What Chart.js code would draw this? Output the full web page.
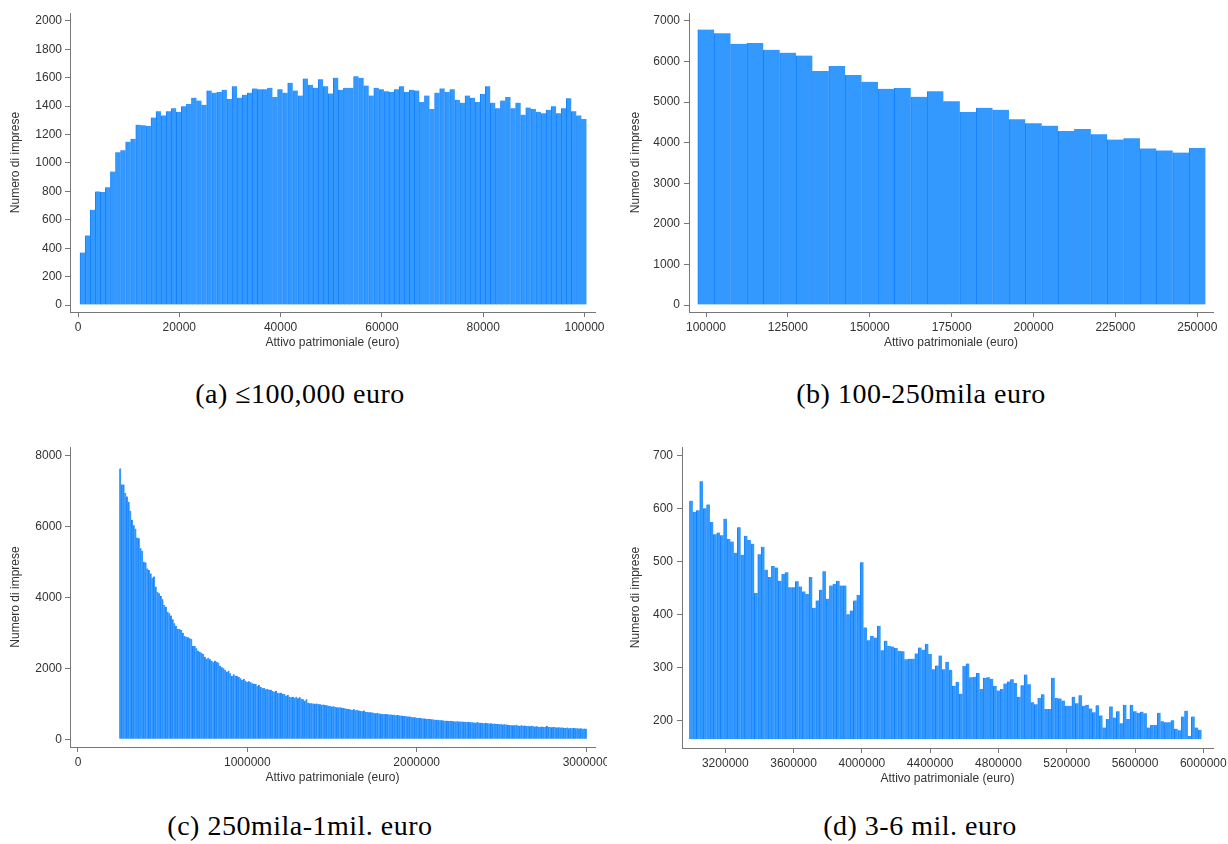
<!DOCTYPE html>
<html>
<head>
<meta charset="utf-8">
<script src="https://cdn.jsdelivr.net/npm/chart.js@4.4.0/dist/chart.umd.min.js"></script>
<style>
    body { margin: 0; background: #fff; width: 1228px; height: 844px; position: relative; overflow: hidden; }
    canvas { position: absolute; }
    .caption {
        position: absolute; width: 614px; text-align: center; white-space: nowrap;
        font-family: "Liberation Serif", "Times New Roman", serif;
        font-size: 28px; line-height: 28px; letter-spacing: 0.5px; color: #000;
    }
</style>
</head>
<body>

<canvas id="chart_a" width="614" height="370" style="left:0px;top:0px"></canvas>
<canvas id="chart_b" width="614" height="370" style="left:614px;top:0px"></canvas>
<canvas id="chart_c" width="607" height="370" style="left:0px;top:430px"></canvas>
<canvas id="chart_d" width="614" height="370" style="left:614px;top:430px"></canvas>

<div class="caption" style="left:-7px;top:380px">(a) &le;100,000 euro</div>
<div class="caption" style="left:614px;top:380px">(b) 100-250mila euro</div>
<div class="caption" style="left:-7px;top:812px">(c) 250mila-1mil. euro</div>
<div class="caption" style="left:613px;top:812px">(d) 3-6 mil. euro</div>

<script>
/******************************************************************************
* Histogram data. Bins are regular: start + width * i.
******************************************************************************/
var binStartA = 400;
var binWidthA = 1000;
var countsA = [
    370, 490, 670, 800, 795, 830, 940, 1075, 1090, 1150,
    1170, 1270, 1265, 1260, 1320, 1365, 1335, 1365, 1385, 1360,
    1400, 1415, 1460, 1440, 1410, 1510, 1495, 1500, 1515, 1450,
    1540, 1460, 1480, 1495, 1525, 1520, 1520, 1530, 1465, 1520,
    1495, 1565, 1510, 1475, 1595, 1550, 1530, 1590, 1540, 1490,
    1600, 1515, 1530, 1530, 1610, 1600, 1545, 1475, 1530, 1520,
    1505, 1500, 1520, 1540, 1500, 1515, 1510, 1430, 1475, 1380,
    1495, 1525, 1500, 1520, 1445, 1425, 1475, 1460, 1430, 1485,
    1540, 1425, 1385, 1440, 1465, 1385, 1425, 1340, 1390, 1380,
    1360, 1350, 1375, 1400, 1350, 1385, 1455, 1365, 1335, 1310
];
var xTicksA = [0, 20000, 40000, 60000, 80000, 100000];
var yTicksA = [0, 200, 400, 600, 800, 1000, 1200, 1400, 1600, 1800, 2000];

var binStartB = 97500;
var binWidthB = 5000;
var countsB = [
    6790, 6700, 6440, 6460, 6290, 6220, 6150, 5770, 5890, 5670,
    5500, 5330, 5350, 5130, 5270, 5020, 4760, 4860, 4810, 4580,
    4480, 4420, 4290, 4340, 4210, 4080, 4110, 3860, 3810, 3760,
    3870
];
var xTicksB = [100000, 125000, 150000, 175000, 200000, 225000, 250000];
var yTicksB = [0, 1000, 2000, 3000, 4000, 5000, 6000, 7000];

var binStartC = 245000;
var binWidthC = 10000;
var countsC = [
    7640, 7190, 7190, 6950, 6850, 6700, 6450, 6190, 6040, 5940,
    5690, 5670, 5390, 5320, 5010, 4990, 4820, 4775, 4680, 4560,
    4590, 4305, 4155, 4117, 4040, 3950, 3790, 3740, 3600, 3553,
    3490, 3384, 3271, 3196, 3110, 3110, 3083, 3008, 2914, 2895,
    2876, 2848, 2829, 2632, 2632, 2566, 2500, 2472, 2444, 2406,
    2331, 2275, 2303, 2256, 2218, 2171, 2218, 2190, 2162, 2077,
    2030, 2002, 1955, 1908, 1936, 1861, 1786, 1833, 1795, 1786,
    1758, 1720, 1673, 1701, 1654, 1617, 1636, 1607, 1579, 1570,
    1560, 1504, 1532, 1476, 1438, 1448, 1410, 1420, 1400, 1400,
    1363, 1344, 1372, 1316, 1297, 1316, 1288, 1278, 1231, 1250,
    1203, 1184, 1203, 1175, 1203, 1156, 1184, 1147, 1128, 1090,
    1128, 1034, 1015,
    1020, 1010,
    1005, 1010, 995,
    990, 975, 980, 965, 960, 950,
    940, 925, 930, 910, 905, 900,
    905, 890, 880, 870, 860, 855,
    840, 830, 850, 820, 835, 810,
    800, 790, 810, 780, 770, 765,
    760, 755, 740, 735, 745, 725,
    720, 715, 710, 712, 705, 700,
    700, 695, 690, 680, 685, 670,
    675, 660, 655, 650, 640, 645,
    630, 625, 620, 610, 600, 605,
    595, 590, 585, 575, 580, 570,
    565, 560, 550, 555, 545, 540,
    535, 530, 520, 525, 515, 520,
    515, 510, 505, 510, 500, 505,
    500, 495, 490, 495, 485, 480,
    480, 475, 470, 485, 465, 470,
    460, 455, 465, 450, 445, 450,
    440, 445, 435, 430, 425, 430,
    420, 425, 415, 410, 405, 400,
    400, 395, 410, 390, 385, 395,
    380, 390, 375, 385, 370, 380,
    365, 360, 370, 355, 350, 360,
    345, 355, 380, 350, 345, 340,
    345, 340, 335, 340, 330, 335,
    325, 320, 330, 315, 320, 310,
    320, 315, 310, 305, 315, 300,
    305, 300
];
var xTicksC = [0, 1000000, 2000000, 3000000];
var yTicksC = [0, 2000, 4000, 6000, 8000];

var binStartD = 2990000;
var binWidthD = 20000;
var countsD = [
    615, 594, 597, 652, 601, 608, 575, 552, 555, 550,
    581, 543, 538, 517, 565, 513, 549, 541, 534, 441,
    514, 528, 485, 471, 492, 489, 464, 477, 480, 452,
    452, 463, 453, 444, 439, 471, 413, 427, 447, 482,
    430, 455, 458, 464, 455, 455, 401, 408, 427, 437,
    499, 376, 352, 360, 357, 379, 333, 351, 341, 340,
    337, 332, 331, 316, 317, 317, 327, 338, 334, 345,
    326, 297, 304, 323, 297, 311, 296, 266, 273, 251,
    303, 308, 282, 283, 290, 260, 281, 282, 279, 266,
    257, 260, 270, 274, 278, 271, 245, 267, 287, 269,
    235, 231, 243, 250, 222, 222, 281, 243, 242, 238,
    228, 228, 245, 233, 248, 228, 230, 223, 216, 229,
    210, 187, 203, 227, 206, 218, 195, 230, 203, 230,
    218, 215, 217, 214, 187, 192, 192, 215, 199, 197,
    197, 201, 185, 182, 208, 219, 171, 208, 187, 183
];
var xTicksD = [3200000, 3600000, 4000000, 4400000, 4800000, 5200000, 5600000, 6000000];
var yTicksD = [200, 300, 400, 500, 600, 700];

var X_TITLE = 'Attivo patrimoniale (euro)';
var Y_TITLE = 'Numero di imprese';

var BAR_FILL = 'rgb(51,153,255)';
var BAR_EDGE = 'rgb(20,128,255)';
var AXIS_COLOR = '#777777';
var TEXT_COLOR = '#333333';

Chart.defaults.font.family = '"Liberation Sans", Arial, Helvetica, sans-serif';
Chart.defaults.font.size = 12;

/******************************************************************************
* Builds one histogram. box holds the axis ranges and the layout numbers that
* put the plot area where the figure has it.
******************************************************************************/
function draw_histogram(id, binStart, binWidth, counts, xTicks, yTicks, box) {

    var points = counts.map(function (c, i) {
        return { x: binStart + binWidth * (i + 0.5), y: c };
    });

    var dataset = {
        data: points,
        backgroundColor: BAR_FILL,
        borderColor: BAR_EDGE,
        borderWidth: { left: 1, right: 0, top: 0, bottom: 0 },
        borderSkipped: false,
        barPercentage: 1,
        categoryPercentage: 1
    };
    if (box.base !== undefined) {
        dataset.base = box.base;
    }

    // the last tick label may hang over the edge, do not let it shrink the plot
    var noLabelPadding = function (s) {
        s.paddingLeft = 0;
        s.paddingRight = 0;
        s.paddingTop = 0;
        s.paddingBottom = 0;
    };

    var tickFont = { size: 12 };

    new Chart(document.getElementById(id).getContext('2d'), {
        type: 'bar',
        data: { datasets: [dataset] },
        options: {
            responsive: false,
            animation: false,
            events: [],
            layout: {
                autoPadding: false,
                padding: { left: 0, top: box.top, right: box.right, bottom: box.bottom }
            },
            plugins: {
                legend: { display: false },
                tooltip: { enabled: false }
            },
            scales: {
                x: {
                    type: 'linear',
                    min: box.xMin,
                    max: box.xMax,
                    bounds: 'data',
                    offset: false,
                    afterBuildTicks: function (s) {
                        s.ticks = xTicks.map(function (v) { return { value: v }; });
                    },
                    afterFit: function (s) {
                        s.height = 40;
                        noLabelPadding(s);
                    },
                    grid: { offset: false, drawOnChartArea: false, drawTicks: true, tickLength: 5, color: AXIS_COLOR },
                    border: { display: true, color: AXIS_COLOR, width: 1 },
                    ticks: {
                        font: tickFont, color: TEXT_COLOR, padding: 3,
                        maxRotation: 0, minRotation: 0, autoSkip: false,
                        callback: function (v) { return String(v); }
                    },
                    title: {
                        display: true, text: X_TITLE, color: TEXT_COLOR, font: { size: 12 },
                        padding: { top: 0, bottom: 2 }
                    }
                },
                y: {
                    type: 'linear',
                    min: box.yMin,
                    max: box.yMax,
                    bounds: 'data',
                    afterBuildTicks: function (s) {
                        s.ticks = yTicks.map(function (v) { return { value: v }; });
                    },
                    afterFit: function (s) {
                        s.width = box.left;
                        noLabelPadding(s);
                    },
                    grid: { drawOnChartArea: false, drawTicks: true, tickLength: 5, color: AXIS_COLOR },
                    border: { display: true, color: AXIS_COLOR, width: 1 },
                    ticks: {
                        font: tickFont, color: TEXT_COLOR, padding: box.tickPad,
                        autoSkip: false,
                        callback: function (v) { return String(v); }
                    },
                    title: {
                        display: true, text: Y_TITLE, color: TEXT_COLOR, font: { size: 12 },
                        padding: { top: box.yTitlePad, bottom: 0 }
                    }
                }
            }
        }
    });
}

draw_histogram('chart_a', binStartA, binWidthA, countsA, xTicksA, yTicksA, {
    xMin: -1580, xMax: 102070, yMin: -49, yMax: 2056,
    left: 70, top: 13, right: 19, bottom: 18, tickPad: 3, yTitlePad: 8
});

draw_histogram('chart_b', binStartB, binWidthB, countsB, xTicksB, yTicksB, {
    xMin: 94809, xMax: 254794, yMin: -172, yMax: 7197,
    left: 75, top: 13, right: 15, bottom: 18, tickPad: 4, yTitlePad: 14
});

draw_histogram('chart_c', binStartC, binWidthC, countsC, xTicksC, yTicksC, {
    xMin: -47200, xMax: 3053000, yMin: -217, yMax: 8245,
    left: 70, top: 17, right: 12, bottom: 13, tickPad: 3, yTitlePad: 8
});

draw_histogram('chart_d', binStartD, binWidthD, countsD, xTicksD, yTicksD, {
    xMin: 2946350, xMax: 6056820, yMin: 148.5, yMax: 716.4,
    left: 68, top: 17, right: 15, bottom: 12, tickPad: 4, yTitlePad: 14,
    base: 165
});
</script>
</body>
</html>
